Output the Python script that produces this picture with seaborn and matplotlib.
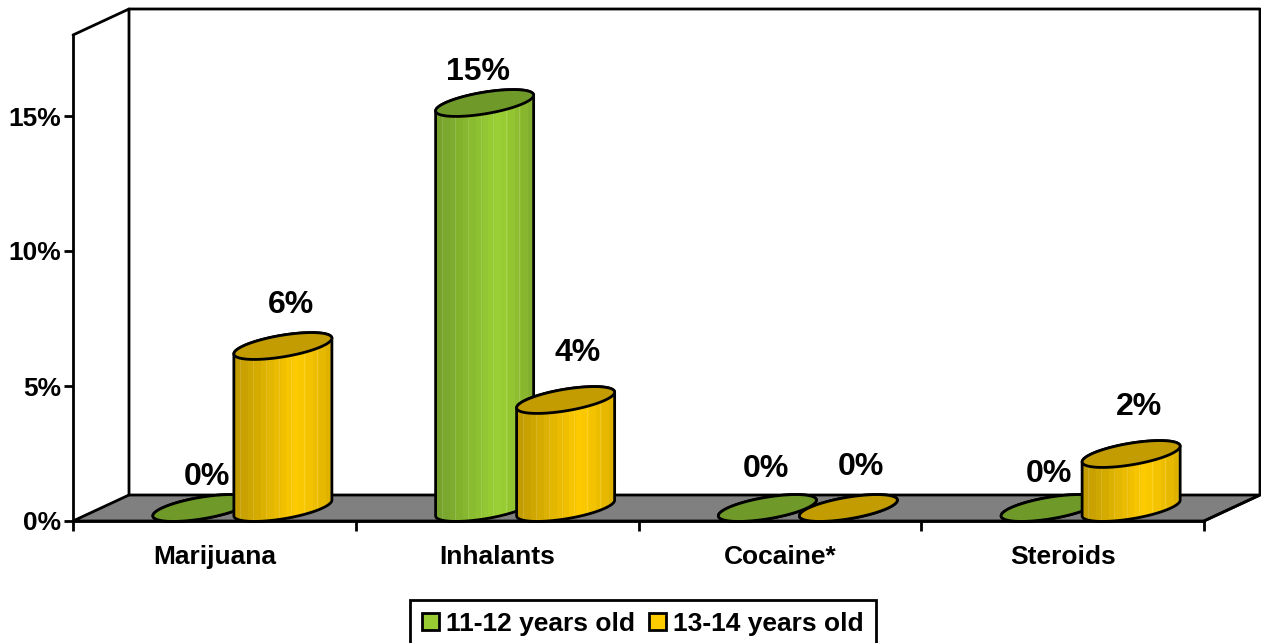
import numpy as np
import pandas as pd
import matplotlib
matplotlib.use('Agg')
import matplotlib.pyplot as plt
import seaborn as sns
from matplotlib.patches import Polygon

categories = ['Marijuana', 'Inhalants', 'Cocaine*', 'Steroids']
age_groups = ['11-12 years old', '13-14 years old']
values_11_12 = [0, 15, 0, 0]
values_13_14 = [6, 4, 0, 2]
value_labels = ['0%', '15%', '0%', '0%', '6%', '4%', '0%', '2%']
y_ticks = [0, 5, 10, 15]

W, H = 1261, 643
DEPTH_X, DEPTH_Y = 56, 26
LW = 2.0

sns.set_theme(style='white')
plt.rcParams.update({
    'font.family': ['Liberation Sans', 'DejaVu Sans'],
    'font.weight': 'bold',
    'font.size': 19,
    'text.color': 'black',
    'xtick.color': 'black',
    'ytick.color': 'black',
})

df = pd.DataFrame({
    'category': categories * 2,
    'age': [age_groups[0]] * 4 + [age_groups[1]] * 4,
    'value': values_11_12 + values_13_14,
})

fig = plt.figure(figsize=(W / 100, H / 100), dpi=100, facecolor='white')


def px_axes(left, top, right, bottom):
    # axes rectangle given in picture pixels (y counted from the top)
    return fig.add_axes([left / W, 1 - bottom / H, (right - left) / W, (bottom - top) / H])


# ---------------------------------------------------------
# Box: back wall, side wall and floor
# ---------------------------------------------------------
bg = px_axes(0, 0, W, H)
bg.set_xlim(0, W)
bg.set_ylim(H, 0)
bg.axis('off')
fx0, fx1, fy0, fy_top = 73, 1204, 521, 35
bg.add_patch(Polygon([(fx0, fy0), (fx0 + DEPTH_X, fy0 - DEPTH_Y), (fx1 + DEPTH_X, fy0 - DEPTH_Y), (fx1, fy0)],
                     closed=True, facecolor='#808080', edgecolor='black', linewidth=LW))
bg.plot([fx0, fx0 + DEPTH_X, fx0 + DEPTH_X], [fy_top, fy_top - DEPTH_Y, fy0 - DEPTH_Y], color='black', lw=LW)
bg.plot([fx0 + DEPTH_X, fx1 + DEPTH_X, fx1 + DEPTH_X, fx1], [fy_top - DEPTH_Y, fy_top - DEPTH_Y, fy0 - DEPTH_Y, fy0],
        color='black', lw=LW)

# ---------------------------------------------------------
# Front plane: the axis ticks and labels
# ---------------------------------------------------------
front = px_axes(fx0, fy_top, fx1, fy0)
front.patch.set_visible(False)
front.set_xlim(-0.5, 3.5)
front.set_ylim(0, 18)
front.set_xticks(range(len(categories)), categories)
front.set_xticks(np.arange(-0.5, 4), minor=True)
front.set_yticks(y_ticks, [f'{t}%' for t in y_ticks])
front.tick_params(axis='x', which='major', length=0, pad=17, labelsize=19)
front.tick_params(axis='x', which='minor', length=7, width=LW, color='black', bottom=True)
front.tick_params(axis='y', length=6.5, width=LW, color='black', pad=2, left=True, labelsize=19)
for name in ['top', 'right']:
    front.spines[name].set_visible(False)
for name in ['left', 'bottom']:
    front.spines[name].set_color('black')
    front.spines[name].set_linewidth(LW)

# ---------------------------------------------------------
# Bars sit half way into the box
# ---------------------------------------------------------
bars = px_axes(fx0 + DEPTH_X / 2, fy_top - DEPTH_Y / 2, fx1 + DEPTH_X / 2, fy0 - DEPTH_Y / 2)
bars.patch.set_visible(False)
sns.barplot(data=df, x='category', y='value', hue='age', order=categories, hue_order=age_groups,
            palette={age_groups[0]: '#99CC33', age_groups[1]: '#FFCC00'}, saturation=1,
            width=0.573, gap=-0.21, edgecolor='black', linewidth=LW, ax=bars)
bars.set_xlim(-0.5, 3.5)
bars.set_ylim(0, 18)
handles, labels = bars.get_legend_handles_labels()
bars.get_legend().remove()
bars.axis('off')

over = px_axes(0, 0, W, H)
over.patch.set_visible(False)
over.axis('off')
over.set_xlim(0, W)
over.set_ylim(0, H)

ramps = {
    0: (['#74A02C', '#9CD234', '#82AC2E'], '#6F9A2A'),
    1: (['#C09A00', '#FFCC00', '#DDB000'], '#C29C00'),
}


def ramp_image(stops):
    # banded horizontal shading with a few pale lines, like the old 3D cylinders
    rgb = np.array([matplotlib.colors.to_rgb(c) for c in stops])
    pos = (np.floor(np.linspace(0, 1, 100) * 15) + 0.5) / 15
    img = np.stack([np.interp(pos, [0, 0.65, 1], rgb[:, k]) for k in range(3)], axis=1)
    img[np.arange(6, 100, 13)] = img[np.arange(6, 100, 13)] * 0.85 + 0.15
    return img[np.newaxis, :, :]


t = np.linspace(0, 2 * np.pi, 121)
idx = 0
for series, container in enumerate(bars.containers):
    stops, top_color = ramps[series]
    for rect in container:
        (x0, y0) = bars.transData.transform((rect.get_x(), 0))
        (x1, y1) = bars.transData.transform((rect.get_x() + rect.get_width(), rect.get_height()))
        cx, a = (x0 + x1) / 2, (x1 - x0) / 2
        ex = cx + a * np.cos(t)
        ey = 0.16 * a * np.cos(t) + 10.9 * np.sin(t)
        lower = t >= np.pi
        upper = t <= np.pi
        body = np.r_[np.c_[ex[lower], y0 + ey[lower]], np.c_[ex[upper], y1 + ey[upper]]]
        z = 2 + idx * 0.1
        outline = Polygon(body, closed=True, facecolor='none', edgecolor='black', linewidth=LW, zorder=z + 0.02)
        over.add_patch(outline)
        if y1 > y0:
            im = over.imshow(ramp_image(stops), extent=(cx - a, cx + a, y0 - 30, y1 + 30), aspect='auto',
                             interpolation='nearest', zorder=z)
            im.set_clip_path(outline)
        rect.set_clip_path(outline)
        cap = Polygon(np.c_[ex, y1 + ey], closed=True, facecolor=top_color, edgecolor='black',
                      linewidth=LW, zorder=z + 0.04)
        over.add_patch(cap)
        idx += 1
over.set_xlim(0, W)
over.set_ylim(0, H)

# value labels, each nudged by hand as in the original
nudges = [(5, 31), (-7, 31), (-1, 39), (-1, 34), (8, 41), (12, 47), (13, 41), (8, 47)]
tops = [r for c in bars.containers for r in c]
for rect, text, (dx, dy) in zip(tops, value_labels, nudges):
    (px, py) = bars.transData.transform((rect.get_x() + rect.get_width() / 2, rect.get_height()))
    over.text(px + dx, py + dy, text, ha='center', va='center', fontsize=23, fontweight='bold',
              color='black', zorder=10)

leg = over.legend(handles, labels, loc='upper left', bbox_to_anchor=(410, H - 600), bbox_transform=over.transData,
                  ncol=2, frameon=True, fancybox=False, edgecolor='black', framealpha=1, borderaxespad=0,
                  borderpad=0.45, handlelength=0.65, handleheight=0.65, handletextpad=0.27, columnspacing=0.53,
                  labelcolor='black', prop={'family': 'Liberation Sans', 'weight': 'bold', 'size': 19})
leg.get_frame().set_linewidth(LW)
leg.set_zorder(20)

fig.savefig('out.png', dpi=100)
